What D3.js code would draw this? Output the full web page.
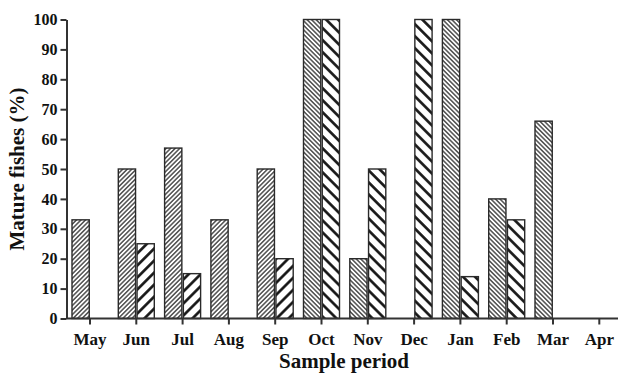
<!DOCTYPE html>
<html>
<head>
<meta charset="utf-8">
<script src="https://cdn.jsdelivr.net/npm/d3@7"></script>
<style>
  html, body { margin: 0; padding: 0; background: #fff; }
  svg { display: block; }
  text { font-family: "Liberation Serif", "Times New Roman", serif; font-weight: bold; fill: #111; }
</style>
</head>
<body>
<svg id="chart" width="618" height="376"></svg>
<script>
const months = ["May","Jun","Jul","Aug","Sep","Oct","Nov","Dec","Jan","Feb","Mar","Apr"];
const seriesA = [33, 50, 57, 33, 50, 100, 20, null, 100, 40, 66, null];
const seriesB = [null, 25, 15, null, 20, 100, 50, 100, 14, 33, null, null];
const yTicks = [0, 10, 20, 30, 40, 50, 60, 70, 80, 90, 100];
const xTitle = "Sample period";
const yTitle = "Mature fishes (%)";

const svg = d3.select("#chart");
const axisX0 = 66.5, yBottom = 318.5, yTop = 19.5;

const x = d3.scaleBand().domain(months).range([66.85, 66.85 + 12 * 46.3]).padding(0);
const x1 = d3.scaleBand().domain(["A", "B"]).range([-18, 18]).paddingInner(0.08);
const y = d3.scaleLinear().domain([0, 100]).range([yBottom, yTop]);

// patterns
const defs = svg.append("defs");
function hatch(id, size, width, angle, color) {
  const p = defs.append("pattern").attr("id", id)
    .attr("patternUnits", "userSpaceOnUse")
    .attr("width", size).attr("height", size)
    .attr("patternTransform", `rotate(${angle})`);
  p.append("rect").attr("width", size).attr("height", size).attr("fill", "#fff");
  p.append("line").attr("x1", size / 2).attr("y1", 0).attr("x2", size / 2).attr("y2", size)
    .attr("stroke", color).attr("stroke-width", width);
}
hatch("thinF", 3.2, 1.2, 45, "#222");
hatch("thinB", 3.2, 1.2, -45, "#222");
hatch("thickF", 8.5, 2.6, 45, "#111");
hatch("thickB", 8.5, 2.6, -45, "#111");

function patternFor(series, i) {
  const back = i >= 5;
  if (series === "A") return back ? "url(#thinB)" : "url(#thinF)";
  return back ? "url(#thickB)" : "url(#thickF)";
}

const rows = months.map((m, i) => ({ m, i, A: seriesA[i], B: seriesB[i] }));
const bars = [];
rows.forEach(r => {
  if (r.A != null) bars.push({ m: r.m, i: r.i, s: "A", v: r.A });
  if (r.B != null) bars.push({ m: r.m, i: r.i, s: "B", v: r.B });
});

svg.append("g").selectAll("rect").data(bars).join("rect")
  .attr("x", d => x(d.m) + x.bandwidth() / 2 + x1(d.s))
  .attr("y", d => y(d.v))
  .attr("width", x1.bandwidth())
  .attr("height", d => y(0) - y(d.v))
  .attr("fill", d => patternFor(d.s, d.i))
  .attr("stroke", "#2a2a2a")
  .attr("stroke-width", 1.4);

// y axis
const yAxis = svg.append("g").attr("transform", `translate(${axisX0},0)`)
  .call(d3.axisLeft(y).tickValues(yTicks).tickSize(6).tickPadding(3).tickSizeOuter(0));
yAxis.select(".domain").attr("stroke", "#333").attr("stroke-width", 2);
yAxis.selectAll(".tick line").attr("stroke", "#333").attr("stroke-width", 2);
yAxis.selectAll("text").attr("font-size", 16).attr("fill", "#111")
  .style("font-family", '"Liberation Serif", serif').style("font-weight", "bold");

// x axis
const xAxis = svg.append("g").attr("transform", `translate(0,${yBottom})`)
  .call(d3.axisBottom(x).tickSize(6).tickPadding(8).tickSizeOuter(0));
xAxis.select(".domain").attr("d", `M${axisX0},0H620`).attr("stroke", "#333").attr("stroke-width", 2);
xAxis.selectAll(".tick line").attr("stroke", "#333").attr("stroke-width", 2);
xAxis.selectAll("text").attr("font-size", 17).attr("fill", "#111")
  .style("font-family", '"Liberation Serif", serif').style("font-weight", "bold");

// titles
svg.append("text").attr("x", 344).attr("y", 368).attr("text-anchor", "middle")
  .attr("font-size", 21).text(xTitle);
svg.append("text").attr("transform", `translate(24,${(yTop + yBottom) / 2}) rotate(-90)`)
  .attr("text-anchor", "middle").attr("font-size", 21).text(yTitle);
</script>
</body>
</html>
